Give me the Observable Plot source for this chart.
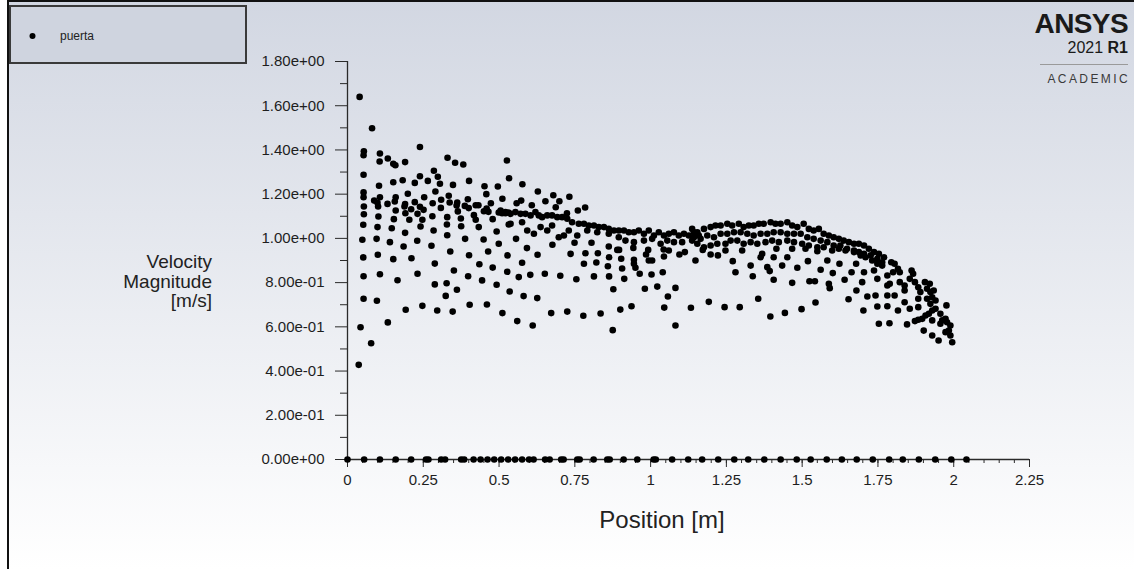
<!DOCTYPE html>
<html>
<head>
<meta charset="utf-8">
<script src="https://cdn.jsdelivr.net/npm/d3@7"></script>
<script src="https://cdn.jsdelivr.net/npm/@observablehq/plot@0.6"></script>
<style>
  html, body { margin: 0; padding: 0; background: #fff; }
  #wrap { position: relative; width: 1134px; height: 569px; overflow: hidden;
          background: linear-gradient(#d2d7e2, #ffffff); font-family: Arial, "Liberation Sans", sans-serif; }
  #wrap svg { position: absolute; left: 0; top: 0; }
  .abs { position: absolute; }
</style>
</head>
<body>
<div id="wrap">
  <div class="abs" style="left:0;top:0;width:7px;height:569px;background:#fff"></div>
  <div class="abs" style="left:7px;top:0;width:2px;height:569px;background:#111"></div>
  <div class="abs" style="left:7px;top:0;width:1127px;height:2px;background:#111"></div>
  <div class="abs" id="legend" style="left:9px;top:5px;width:238px;height:59px;box-sizing:border-box;border:2px solid #3a3a3a;background:#cfd4df"></div>
  <div class="abs" id="ytitle" style="right:922px;top:252px;text-align:right;font-size:19px;line-height:19.5px;color:#222"></div>
  <div class="abs" id="xtitle" style="left:562px;width:200px;top:506px;text-align:center;font-size:24px;color:#222"></div>
  <div class="abs" id="logo" style="right:6px;top:9px;text-align:right;color:#1a1a1a">
    <div style="font-weight:bold;font-size:28px;line-height:30px;letter-spacing:-0.6px">ANSYS</div>
    <div style="font-size:16px;line-height:18px">2021 <b>R1</b></div>
    <div style="margin-top:7px;width:88px;margin-left:auto;border-top:1px solid #9a9a9a"></div>
    <div style="font-size:12px;line-height:14px;letter-spacing:2.4px;margin-top:7px;margin-right:-2px;color:#3a3a3a">ACADEMIC</div>
  </div>
</div>
<script>
// ---- data ----
const seriesName = "puerta";
const xTitle = "Position [m]";
const yTitleLines = ["Velocity", "Magnitude", "[m/s]"];

const xTicks = [0, 0.25, 0.5, 0.75, 1, 1.25, 1.5, 1.75, 2, 2.25];
const xTickLabels = ["0", "0.25", "0.5", "0.75", "1", "1.25", "1.5", "1.75", "2", "2.25"];
const yTicks = [0, 0.2, 0.4, 0.6, 0.8, 1.0, 1.2, 1.4, 1.6, 1.8];
const yTickLabels = ["0.00e+00", "2.00e-01", "4.00e-01", "6.00e-01", "8.00e-01", "1.00e+00", "1.20e+00", "1.40e+00", "1.60e+00", "1.80e+00"];

// points with zero velocity (wall cells)
const zeroLineX = [0, 0.055, 0.107, 0.159, 0.210, 0.259, 0.267, 0.309, 0.322, 0.375, 0.385, 0.416, 0.439, 0.462, 0.484,
  0.507, 0.530, 0.553, 0.576, 0.599, 0.614, 0.652, 0.667, 0.705, 0.713, 0.758, 0.766, 0.812, 0.857, 0.865, 0.911,
  0.956, 1.010, 1.017, 1.071, 1.124, 1.170, 1.223, 1.276, 1.322, 1.375, 1.429, 1.482, 1.528, 1.581, 1.631, 1.680,
  1.733, 1.787, 1.832, 1.885, 1.939, 1.992, 2.042];

// [position, velocity]
const inletPts = [
  [0.040,1.640],[0.081,1.498],[0.054,1.394],[0.053,1.376],[0.107,1.384],[0.239,1.413],[0.106,1.348],[0.133,1.361],
  [0.151,1.337],[0.158,1.331],[0.190,1.345],[0.330,1.365],[0.355,1.342],[0.382,1.334],[0.526,1.352],
  [0.053,1.288],[0.285,1.306],[0.239,1.281],[0.298,1.279],[0.151,1.254],[0.182,1.263],[0.222,1.251],[0.265,1.260],
  [0.305,1.247],[0.401,1.260],[0.533,1.272],[0.104,1.238],[0.348,1.242],[0.452,1.236],[0.496,1.235],
  [0.053,1.208],[0.290,1.212],[0.053,1.186],[0.107,1.186],[0.334,1.193],[0.458,1.200],[0.199,1.202],[0.159,1.186],
  [0.253,1.186],[0.088,1.171],[0.099,1.161],[0.132,1.156],[0.156,1.167],[0.190,1.155],[0.222,1.164],[0.281,1.159],
  [0.309,1.175],[0.337,1.162],[0.362,1.162],[0.397,1.177],[0.423,1.150],[0.432,1.150],[0.473,1.159],[0.511,1.179],
  [0.054,1.144],[0.101,1.144],[0.188,1.144],[0.210,1.132],[0.239,1.143],[0.251,1.129],[0.308,1.138],[0.360,1.149],
  [0.387,1.147],[0.364,1.122],[0.400,1.137],[0.450,1.123],[0.465,1.120],[0.459,1.135],[0.499,1.117],[0.510,1.114],
  [0.521,1.114],[0.531,1.117],[0.159,1.126],[0.191,1.114],[0.231,1.111],[0.054,1.109],[0.102,1.099],[0.153,1.087],
  [0.204,1.084],[0.247,1.084],[0.280,1.100],[0.329,1.096],[0.374,1.090],[0.417,1.105],[0.423,1.084],[0.479,1.087],
  [0.532,1.063],[0.052,1.062],[0.099,1.051],[0.146,1.046],[0.241,1.054],[0.284,1.036],[0.328,1.063],[0.375,1.055],
  [0.433,1.051],[0.492,1.031],[0.190,1.025],[0.329,1.014],
  [0.049,0.994],[0.096,0.998],[0.140,0.983],[0.185,0.963],[0.230,0.989],[0.277,0.967],[0.339,0.941],[0.388,0.998],
  [0.449,0.995],[0.464,0.941],[0.499,0.976],[0.052,0.914],[0.100,0.926],[0.151,0.906],[0.211,0.910],[0.288,0.886],
  [0.401,0.924],[0.435,0.883],[0.479,0.868],[0.528,0.923],[0.053,0.829],[0.107,0.838],[0.165,0.811],[0.231,0.840],
  [0.351,0.855],[0.398,0.829],[0.444,0.810],[0.492,0.790],[0.527,0.849],[0.288,0.792],[0.327,0.797],[0.361,0.768],
  [0.324,0.740],[0.535,0.760],[0.053,0.727],[0.097,0.718],[0.192,0.677],[0.247,0.695],[0.296,0.674],[0.347,0.669],
  [0.403,0.700],[0.460,0.701],[0.511,0.662],[0.043,0.598],[0.133,0.620],[0.078,0.526],[0.037,0.428]
];

const midScatter = [
  [0.577,1.245],[0.628,1.212],[0.679,1.195],[0.732,1.188],[0.558,1.159],[0.573,1.171],[0.608,1.150],[0.653,1.168],
  [0.699,1.168],[0.687,1.141],[0.724,1.114],[0.760,1.126],[0.784,1.140],
  [0.556,0.998],[0.592,0.956],[0.676,0.971],[0.749,0.980],[0.805,0.980],[0.862,0.963],[0.890,0.948],[0.896,0.948],
  [0.943,0.957],[0.992,0.948],[1.043,0.950],[1.060,0.945],[1.095,0.927],[1.113,0.938],
  [0.576,0.890],[0.627,0.926],[0.736,0.930],[0.785,0.933],[0.826,0.933],[0.863,0.915],[0.903,0.908],[0.945,0.903],
  [0.985,0.927],[1.005,0.900],[0.994,0.900],[1.044,0.918],[1.148,0.900],
  [0.780,0.885],[0.821,0.891],[0.859,0.874],[0.906,0.864],[0.945,0.885],[0.950,0.867],
  [0.565,0.825],[0.603,0.835],[0.651,0.840],[0.702,0.831],[0.755,0.815],[0.813,0.828],[0.863,0.828],[0.913,0.817],
  [0.964,0.840],[1.003,0.837],[1.040,0.847],
  [0.581,0.739],[0.626,0.730],[0.877,0.770],[0.981,0.772],[1.022,0.782],[1.057,0.737],[1.082,0.776],
  [0.560,0.626],[0.611,0.606],[0.672,0.662],[0.725,0.669],[0.778,0.650],[0.835,0.660],[0.875,0.585],[0.900,0.678],
  [0.937,0.693],[1.045,0.687],[1.082,0.606],[1.133,0.686]
];

const midBand = [
  [0.505,1.126],[0.521,1.119],[0.538,1.111],[0.554,1.119],[0.571,1.111],[0.587,1.111],[0.604,1.104],[0.620,1.119],
  [0.631,1.104],[0.642,1.096],[0.659,1.104],[0.675,1.104],[0.692,1.096],[0.708,1.096],[0.725,1.089],[0.741,1.073],
  [0.763,1.066],[0.780,1.066],[0.796,1.058],[0.813,1.058],[0.829,1.051],[0.846,1.051],[0.862,1.043],[0.879,1.036],
  [0.895,1.036],[0.912,1.036],[0.928,1.028],[0.945,1.028],[0.961,1.036],[0.978,1.021],[0.994,1.036],[1.011,1.013],
  [1.027,1.028],[1.044,1.013],[1.060,1.021],[1.077,1.028],[1.093,1.013],[1.110,1.021],[1.126,1.013],[1.143,1.028],
  [1.159,1.013],
  [0.538,1.066],[0.576,1.073],[0.593,1.036],[0.615,1.021],[0.637,1.051],[0.659,1.036],[0.675,1.058],[0.697,1.005],
  [0.714,1.013],[0.730,1.036],[0.758,1.013],[0.791,1.036],[0.824,1.028],[0.862,1.021],[0.895,1.005],[0.917,0.990],
  [0.945,0.983],[0.978,0.990],[1.005,0.998],[1.033,0.976],[1.055,0.990],[1.077,0.983],[1.104,0.983],[1.137,0.990]
];

const recircBand = [
  [1.137,1.043],[1.154,1.028],[1.176,1.043],[1.198,1.051],[1.214,1.058],[1.231,1.058],[1.253,1.066],[1.269,1.058],
  [1.291,1.066],[1.307,1.051],[1.324,1.058],[1.340,1.058],[1.357,1.066],[1.373,1.066],[1.396,1.073],[1.412,1.066],
  [1.429,1.066],[1.451,1.073],[1.467,1.058],[1.484,1.051],[1.505,1.066],[1.522,1.043],[1.538,1.036],[1.555,1.043],
  [1.571,1.021],[1.588,1.013],[1.604,1.005],[1.621,0.998],[1.637,0.990],[1.654,0.983],[1.671,0.976],[1.687,0.976],
  [1.704,0.968],[1.720,0.953],[1.737,0.938],[1.753,0.930],[1.770,0.915],
  [1.143,1.005],[1.165,0.998],[1.187,1.013],[1.209,1.005],[1.231,1.021],[1.253,1.021],[1.275,1.028],[1.297,1.028],
  [1.319,1.021],[1.340,1.013],[1.363,1.021],[1.385,1.021],[1.406,1.028],[1.429,1.028],[1.451,1.021],[1.473,1.021],
  [1.495,1.021],[1.517,1.005],[1.538,0.998],[1.561,0.990],[1.583,0.983],[1.604,0.968],[1.626,0.968],[1.648,0.953],
  [1.671,0.945],[1.687,0.938],[1.704,0.930],[1.726,0.923],[1.748,0.908],[1.764,0.892],
  [1.154,0.976],[1.176,0.960],[1.198,0.968],[1.220,0.976],[1.247,0.976],[1.264,0.990],[1.286,0.990],[1.307,0.976],
  [1.330,0.983],[1.352,0.976],[1.379,0.983],[1.401,0.990],[1.423,0.983],[1.451,0.990],[1.473,0.983],[1.500,0.976],
  [1.522,0.968],[1.550,0.960],[1.571,0.960],[1.599,0.945],[1.621,0.953],[1.643,0.945],[1.671,0.938],[1.693,0.923],
  [1.709,0.915],[1.731,0.900],[1.748,0.885],[1.764,0.877]
];

const recircScatter = [
  [1.172,0.948],[1.198,0.927],[1.222,0.923],[1.247,0.945],[1.271,0.897],[1.302,0.945],[1.330,0.877],[1.363,0.915],
  [1.368,0.930],[1.406,0.915],[1.415,0.953],[1.434,0.877],[1.451,0.915],[1.467,0.953],[1.484,0.867],[1.511,0.953],
  [1.519,0.897],[1.550,0.942],[1.561,0.858],[1.583,0.900],[1.601,0.843],[1.623,0.885],[1.640,0.813],[1.663,0.847],
  [1.678,0.885],[1.698,0.802],[1.704,0.847],[1.737,0.855],[1.748,0.817],[1.781,0.832],[1.280,0.847],[1.337,0.829],
  [1.385,0.870],[1.393,0.852],[1.406,0.813],[1.467,0.799],[1.524,0.806],[1.542,0.806],[1.588,0.795],[1.591,0.775],
  [1.679,0.764],[1.715,0.737],[1.742,0.742],[1.781,0.787],[1.781,0.742],
  [1.192,0.713],[1.244,0.689],[1.294,0.689],[1.355,0.727],[1.395,0.647],[1.443,0.663],[1.498,0.680],[1.544,0.710],
  [1.653,0.725],[1.702,0.674],[1.748,0.692],[1.781,0.693],[1.753,0.614],[1.788,0.616]
];

const outletPts = [
  [1.794,0.892],[1.805,0.885],[1.816,0.862],[1.822,0.847],[1.800,0.847],[1.789,0.795],[1.805,0.742],[1.822,0.802],
  [1.838,0.787],[1.838,0.764],[1.861,0.855],[1.866,0.840],[1.855,0.817],[1.872,0.802],[1.883,0.779],[1.905,0.802],
  [1.921,0.795],[1.890,0.757],[1.912,0.772],[1.923,0.757],[1.934,0.764],[1.883,0.727],[1.912,0.727],[1.929,0.734],
  [1.940,0.719],[1.923,0.704],[1.940,0.682],[1.929,0.674],[1.918,0.659],[1.907,0.651],[1.896,0.636],[1.883,0.632],
  [1.872,0.626],[1.956,0.659],[1.962,0.629],[1.973,0.636],[1.978,0.621],[1.989,0.606],[1.984,0.583],[1.989,0.561],
  [1.995,0.530],[1.973,0.576],[1.956,0.614],[1.929,0.629],[1.901,0.583],[1.929,0.561],[1.950,0.538],[1.976,0.697],
  [1.816,0.674],[1.838,0.711],[1.855,0.682],[1.883,0.689],[1.846,0.611]
];

// ---- build ----
const points = [
  ...zeroLineX.map(x => [x, 0]),
  ...inletPts, ...midScatter, ...midBand, ...recircBand, ...recircScatter, ...outletPts
].map(([x, v]) => ({x, v}));

const xMinor = d3.range(0, 46).map(i => i * 0.05);
const yMinor = d3.range(0, 9).map(i => i * 0.2 + 0.1);

const axisColor = "#2a2a2a";
const chart = Plot.plot({
  width: 1134,
  height: 569,
  marginLeft: 347,
  marginRight: 105,
  marginTop: 61,
  marginBottom: 110,
  style: {background: "transparent", fontFamily: "Arial, 'Liberation Sans', sans-serif", color: axisColor, overflow: "visible"},
  x: {domain: [0, 2.25]},
  y: {domain: [0, 1.8]},
  marks: [
    Plot.axisX(xMinor, {tickSize: 4, tickFormat: () => "", label: null, stroke: axisColor}),
    Plot.axisX(xTicks, {tickSize: 8, tickPadding: 7, fontSize: 15, label: null, stroke: axisColor, fill: "#1e1e1e",
      tickFormat: d => xTickLabels[xTicks.indexOf(d)]}),
    Plot.axisY(yMinor, {tickSize: 7, tickFormat: () => "", label: null, stroke: axisColor}),
    Plot.axisY(yTicks, {tickSize: 12, tickPadding: 11, fontSize: 15, label: null, stroke: axisColor, fill: "#1e1e1e",
      tickFormat: d => yTickLabels[yTicks.indexOf(d)]}),
    Plot.ruleY([0], {stroke: axisColor, strokeWidth: 1.3}),
    Plot.ruleX([0], {stroke: axisColor, strokeWidth: 1.3}),
    Plot.dot(points, {x: "x", y: "v", r: 3.3, fill: "#000", stroke: null})
  ]
});
document.getElementById("wrap").appendChild(chart);

// legend
const legend = document.getElementById("legend");
legend.innerHTML = `<svg width="234" height="55" style="position:absolute;left:0;top:0"><circle cx="21.5" cy="29" r="3" fill="#000"></circle>
<text x="49" y="33" font-size="12" fill="#222" font-family="Arial, 'Liberation Sans', sans-serif">${seriesName}</text></svg>`;

document.getElementById("ytitle").innerHTML = yTitleLines.join("<br>");
document.getElementById("xtitle").textContent = xTitle;
</script>
</body>
</html>
